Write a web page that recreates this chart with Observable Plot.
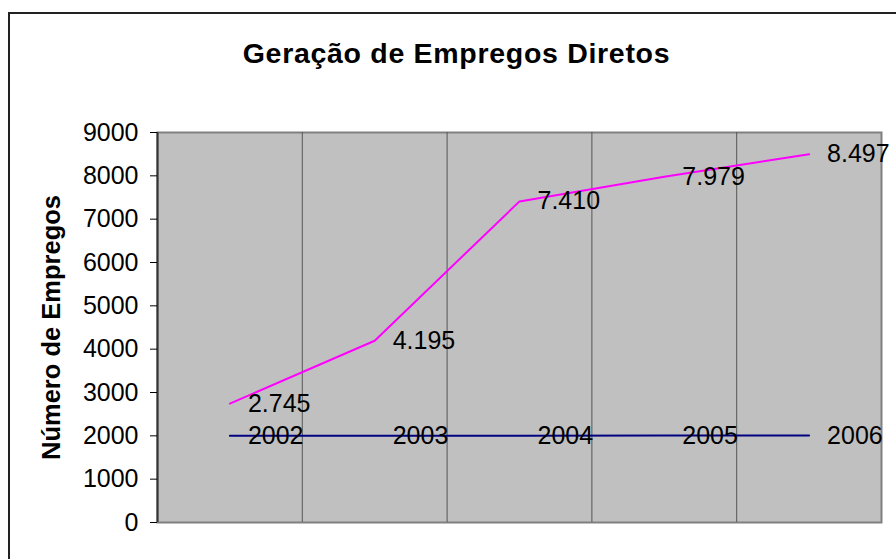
<!DOCTYPE html>
<html>
<head>
<meta charset="utf-8">
<script src="https://cdn.jsdelivr.net/npm/d3@7"></script>
<script src="https://cdn.jsdelivr.net/npm/@observablehq/plot@0.6"></script>
<style>
  body { margin: 0; background: #fff; }
  #wrap { position: relative; width: 896px; height: 559px; overflow: hidden; font-family: "Liberation Sans", Arial, sans-serif; }
  #border { position: absolute; left: 8px; top: 12px; width: 1000px; height: 700px; border-top: 2px solid #222; border-left: 2px solid #222; box-sizing: border-box; pointer-events: none; }
  #title { position: relative; height: 100px; box-sizing: border-box; padding-top: 37px; line-height: 32px; font-size: 28.5px; font-weight: bold; letter-spacing: 0.7px; text-align: center; padding-left: 17px; color: #000; }
  #chart svg { display: block; overflow: visible; }
</style>
</head>
<body>
<div id="wrap">
  <div id="border"></div>
  <div id="title">Geração de Empregos Diretos</div>
  <div id="chart"></div>
</div>
<script>
const years = [2002, 2003, 2004, 2005, 2006];
const empregos = [2745, 4195, 7410, 7979, 8497];
const serieAno = [2002, 2003, 2004, 2005, 2006];
const yTicks = [0, 1000, 2000, 3000, 4000, 5000, 6000, 7000, 8000, 9000];
const yLabel = "Número de Empregos";

const ptBR = d3.formatLocale({decimal: ",", thousands: ".", grouping: [3], currency: ["R$", ""]});
const fmtEmp = ptBR.format(",d");

const rowsEmp = years.map((yr, i) => ({year: yr, value: empregos[i]}));
const rowsAno = years.map((yr, i) => ({year: yr, value: serieAno[i]}));
const xDomain = [years[0] - 0.5, years[years.length - 1] + 0.5];

const chart = Plot.plot({
  width: 896,
  height: 459,
  marginTop: 32,
  marginBottom: 37,
  marginLeft: 157,
  marginRight: 15,
  style: {fontFamily: "'Liberation Sans', Arial, sans-serif", fontSize: "25px", color: "#000", background: "transparent", overflow: "visible"},
  x: {domain: xDomain, axis: null},
  y: {domain: [0, 9000], axis: null},
  marks: [
    Plot.frame({fill: "#C0C0C0", stroke: "#808080", strokeWidth: 2}),
    Plot.ruleX(years.slice(1), {x: d => d - 0.5, stroke: "#555", strokeWidth: 1}),
    Plot.ruleX([xDomain[0]], {stroke: "#333", strokeWidth: 2}),
    Plot.axisY({ticks: yTicks, tickSize: 7, tickPadding: 12, tickFormat: d => String(d), label: null, fontSize: 25, stroke: "#000"}),
    Plot.line(rowsAno, {x: "year", y: "value", stroke: "#000080", strokeWidth: 2}),
    Plot.line(rowsEmp, {x: "year", y: "value", stroke: "#FF00FF", strokeWidth: 2}),
    Plot.text(rowsEmp, {x: "year", y: "value", text: d => fmtEmp(d.value), dx: 18, textAnchor: "start", fontSize: 25, fill: "#000"}),
    Plot.text(rowsAno, {x: "year", y: "value", text: d => String(d.value), dx: 18, textAnchor: "start", fontSize: 25, fill: "#000"}),
    Plot.text([yLabel], {frameAnchor: "left", textAnchor: "middle", dx: -106, rotate: -90, fontWeight: "bold", fontSize: 25.5, fill: "#000"})
  ]
});
document.getElementById("chart").appendChild(chart);
</script>
</body>
</html>
